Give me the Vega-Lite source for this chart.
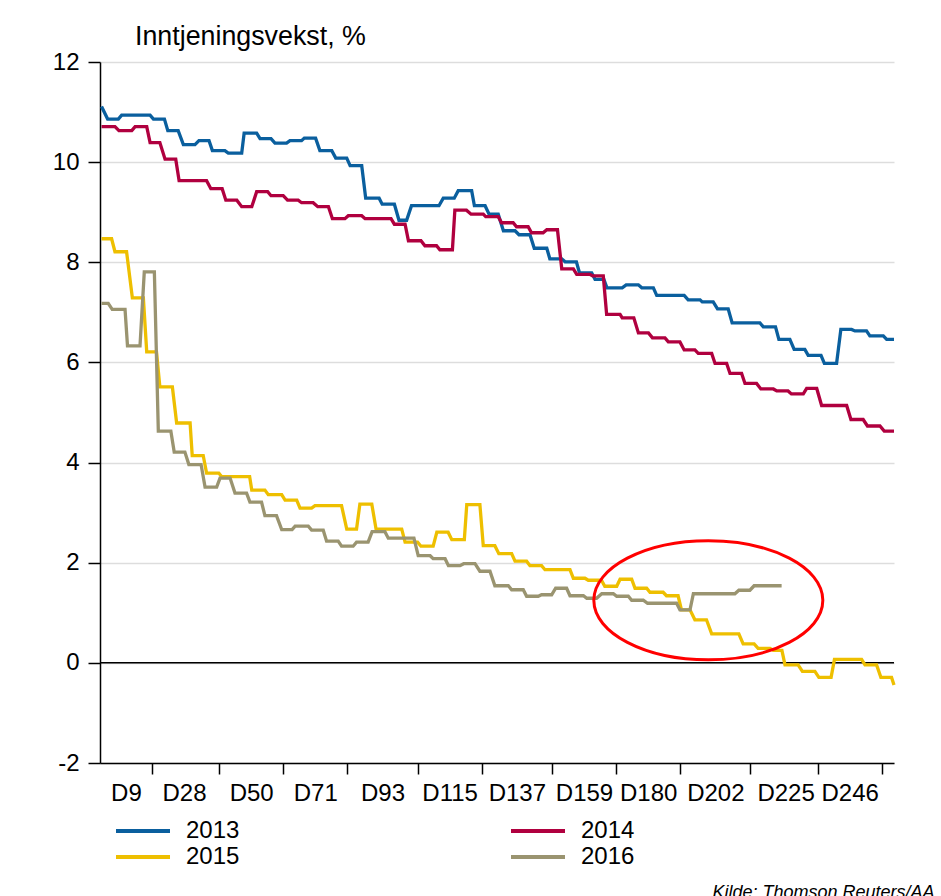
{
  "$schema": "https://vega.github.io/schema/vega-lite/v6.json",
  "width": 794,
  "height": 701,
  "autosize": {"type": "none"},
  "padding": {"left": 100, "top": 62, "right": 47, "bottom": 133},
  "background": "white",
  "config": {
    "font": "Liberation Sans",
    "view": {"stroke": null},
    "axis": {"labelColor": "black", "labelFontSize": 24, "labelFont": "Liberation Sans"}
  },
  "title": {
    "text": "Inntjeningsvekst, %",
    "anchor": "start",
    "frame": "group",
    "dx": 35,
    "dy": 5,
    "offset": 4,
    "fontSize": 26.8,
    "fontWeight": "normal",
    "color": "black",
    "font": "Liberation Sans"
  },
  "datasets": {
    "series": [
      {"year":"2013","day":1,"value":11.11},
      {"year":"2013","day":3,"value":10.86},{"year":"2013","day":6.5,"value":10.86},
      {"year":"2013","day":7.6,"value":10.94},{"year":"2013","day":16.9,"value":10.94},
      {"year":"2013","day":18,"value":10.86},{"year":"2013","day":21.6,"value":10.86},
      {"year":"2013","day":22.7,"value":10.63},{"year":"2013","day":26.1,"value":10.63},
      {"year":"2013","day":27.8,"value":10.35},{"year":"2013","day":31.6,"value":10.35},
      {"year":"2013","day":32.9,"value":10.43},{"year":"2013","day":36.2,"value":10.43},
      {"year":"2013","day":37.3,"value":10.23},{"year":"2013","day":41.4,"value":10.23},
      {"year":"2013","day":42.5,"value":10.18},{"year":"2013","day":46.9,"value":10.18},
      {"year":"2013","day":47.7,"value":10.58},{"year":"2013","day":51.8,"value":10.58},
      {"year":"2013","day":52.9,"value":10.47},{"year":"2013","day":56.5,"value":10.47},
      {"year":"2013","day":57.8,"value":10.38},{"year":"2013","day":61.6,"value":10.38},
      {"year":"2013","day":62.7,"value":10.43},{"year":"2013","day":66.5,"value":10.43},
      {"year":"2013","day":67.4,"value":10.48},{"year":"2013","day":71.1,"value":10.48},
      {"year":"2013","day":72.5,"value":10.23},{"year":"2013","day":76.4,"value":10.23},
      {"year":"2013","day":77.7,"value":10.08},{"year":"2013","day":81.3,"value":10.08},
      {"year":"2013","day":82.4,"value":9.93},{"year":"2013","day":86.2,"value":9.93},
      {"year":"2013","day":87.5,"value":9.28},{"year":"2013","day":91.9,"value":9.28},
      {"year":"2013","day":92.9,"value":9.16},{"year":"2013","day":96.9,"value":9.16},
      {"year":"2013","day":98.4,"value":8.84},{"year":"2013","day":100.9,"value":8.84},
      {"year":"2013","day":102.5,"value":9.13},{"year":"2013","day":111.5,"value":9.13},
      {"year":"2013","day":112.9,"value":9.28},{"year":"2013","day":116.5,"value":9.28},
      {"year":"2013","day":117.8,"value":9.43},{"year":"2013","day":122.2,"value":9.43},
      {"year":"2013","day":123.1,"value":9.13},{"year":"2013","day":126.6,"value":9.13},
      {"year":"2013","day":127.9,"value":8.96},{"year":"2013","day":130.9,"value":8.96},
      {"year":"2013","day":132.6,"value":8.63},{"year":"2013","day":136.4,"value":8.63},
      {"year":"2013","day":137.7,"value":8.55},{"year":"2013","day":141.3,"value":8.55},
      {"year":"2013","day":142.7,"value":8.28},{"year":"2013","day":146.8,"value":8.28},
      {"year":"2013","day":147.8,"value":8.07},{"year":"2013","day":151.7,"value":8.07},
      {"year":"2013","day":152.8,"value":8.01},{"year":"2013","day":156.5,"value":8.01},
      {"year":"2013","day":157.5,"value":7.79},{"year":"2013","day":161.5,"value":7.79},
      {"year":"2013","day":162.6,"value":7.66},{"year":"2013","day":165.5,"value":7.66},
      {"year":"2013","day":166.5,"value":7.49},{"year":"2013","day":171.5,"value":7.49},
      {"year":"2013","day":172.8,"value":7.55},{"year":"2013","day":176.8,"value":7.55},
      {"year":"2013","day":177.9,"value":7.49},{"year":"2013","day":181.7,"value":7.49},
      {"year":"2013","day":182.8,"value":7.34},{"year":"2013","day":191.8,"value":7.34},
      {"year":"2013","day":193.1,"value":7.25},{"year":"2013","day":197,"value":7.25},
      {"year":"2013","day":197.7,"value":7.21},{"year":"2013","day":201.3,"value":7.21},
      {"year":"2013","day":202.7,"value":7.07},{"year":"2013","day":206.2,"value":7.07},
      {"year":"2013","day":207.5,"value":6.79},{"year":"2013","day":216.6,"value":6.79},
      {"year":"2013","day":217.7,"value":6.71},{"year":"2013","day":221.7,"value":6.71},
      {"year":"2013","day":222.8,"value":6.46},{"year":"2013","day":226.4,"value":6.46},
      {"year":"2013","day":227.8,"value":6.26},{"year":"2013","day":231.3,"value":6.26},
      {"year":"2013","day":232.4,"value":6.14},{"year":"2013","day":236.6,"value":6.14},
      {"year":"2013","day":237.7,"value":5.98},{"year":"2013","day":241.7,"value":5.98},
      {"year":"2013","day":243.1,"value":6.66},{"year":"2013","day":246.6,"value":6.66},
      {"year":"2013","day":247.7,"value":6.63},{"year":"2013","day":251.5,"value":6.63},
      {"year":"2013","day":252.6,"value":6.53},{"year":"2013","day":257,"value":6.53},
      {"year":"2013","day":258.1,"value":6.46},{"year":"2013","day":260.5,"value":6.46},

      {"year":"2014","day":1,"value":10.71},{"year":"2014","day":5.4,"value":10.71},
      {"year":"2014","day":6.7,"value":10.63},{"year":"2014","day":10.9,"value":10.63},
      {"year":"2014","day":12,"value":10.71},{"year":"2014","day":15.8,"value":10.71},
      {"year":"2014","day":16.9,"value":10.39},{"year":"2014","day":20.1,"value":10.39},
      {"year":"2014","day":21.8,"value":10.06},{"year":"2014","day":25.3,"value":10.06},
      {"year":"2014","day":26.4,"value":9.63},{"year":"2014","day":35.4,"value":9.63},
      {"year":"2014","day":36.8,"value":9.47},{"year":"2014","day":40.5,"value":9.47},
      {"year":"2014","day":41.7,"value":9.24},{"year":"2014","day":45.3,"value":9.24},
      {"year":"2014","day":46.9,"value":9.11},{"year":"2014","day":50.2,"value":9.11},
      {"year":"2014","day":51.8,"value":9.41},{"year":"2014","day":55.4,"value":9.41},
      {"year":"2014","day":56.5,"value":9.33},{"year":"2014","day":60.5,"value":9.33},
      {"year":"2014","day":61.9,"value":9.24},{"year":"2014","day":65.4,"value":9.24},
      {"year":"2014","day":66.5,"value":9.19},{"year":"2014","day":70.3,"value":9.19},
      {"year":"2014","day":71.8,"value":9.11},{"year":"2014","day":75.3,"value":9.11},
      {"year":"2014","day":76.6,"value":8.87},{"year":"2014","day":80.7,"value":8.87},
      {"year":"2014","day":81.8,"value":8.93},{"year":"2014","day":86.2,"value":8.93},
      {"year":"2014","day":87.3,"value":8.87},{"year":"2014","day":95.8,"value":8.87},
      {"year":"2014","day":96.9,"value":8.76},{"year":"2014","day":100.4,"value":8.76},
      {"year":"2014","day":101.5,"value":8.43},{"year":"2014","day":105.6,"value":8.43},
      {"year":"2014","day":106.9,"value":8.33},{"year":"2014","day":110.7,"value":8.33},
      {"year":"2014","day":111.8,"value":8.25},{"year":"2014","day":115.9,"value":8.25},
      {"year":"2014","day":116.7,"value":9.04},{"year":"2014","day":120.5,"value":9.04},
      {"year":"2014","day":122,"value":8.96},{"year":"2014","day":126,"value":8.96},
      {"year":"2014","day":126.8,"value":8.91},{"year":"2014","day":130.9,"value":8.91},
      {"year":"2014","day":132,"value":8.79},{"year":"2014","day":135.8,"value":8.79},
      {"year":"2014","day":136.9,"value":8.71},{"year":"2014","day":140.7,"value":8.71},
      {"year":"2014","day":141.8,"value":8.59},{"year":"2014","day":145.6,"value":8.59},
      {"year":"2014","day":146.8,"value":8.65},{"year":"2014","day":150.3,"value":8.65},
      {"year":"2014","day":151.7,"value":7.87},{"year":"2014","day":155.5,"value":7.87},
      {"year":"2014","day":156.6,"value":7.76},{"year":"2014","day":160.9,"value":7.76},
      {"year":"2014","day":161.8,"value":7.73},{"year":"2014","day":165.3,"value":7.73},
      {"year":"2014","day":166.4,"value":6.96},{"year":"2014","day":170.8,"value":6.96},
      {"year":"2014","day":171.5,"value":6.89},{"year":"2014","day":175.3,"value":6.89},
      {"year":"2014","day":176.8,"value":6.59},{"year":"2014","day":180.1,"value":6.59},
      {"year":"2014","day":181.4,"value":6.49},{"year":"2014","day":185.5,"value":6.49},
      {"year":"2014","day":186.6,"value":6.41},{"year":"2014","day":190.4,"value":6.41},
      {"year":"2014","day":191.8,"value":6.25},{"year":"2014","day":195.3,"value":6.25},
      {"year":"2014","day":196.4,"value":6.18},{"year":"2014","day":200.8,"value":6.18},
      {"year":"2014","day":201.9,"value":5.98},{"year":"2014","day":205.7,"value":5.98},
      {"year":"2014","day":206.8,"value":5.78},{"year":"2014","day":210.6,"value":5.78},
      {"year":"2014","day":211.7,"value":5.58},{"year":"2014","day":215.5,"value":5.58},
      {"year":"2014","day":216.9,"value":5.47},{"year":"2014","day":221,"value":5.47},
      {"year":"2014","day":222.1,"value":5.43},{"year":"2014","day":225.8,"value":5.43},
      {"year":"2014","day":226.9,"value":5.37},{"year":"2014","day":230.8,"value":5.37},
      {"year":"2014","day":231.9,"value":5.48},{"year":"2014","day":235.2,"value":5.48},
      {"year":"2014","day":236.8,"value":5.14},{"year":"2014","day":245,"value":5.14},
      {"year":"2014","day":246.4,"value":4.86},{"year":"2014","day":250.4,"value":4.86},
      {"year":"2014","day":251.8,"value":4.73},{"year":"2014","day":255.9,"value":4.73},
      {"year":"2014","day":257.3,"value":4.63},{"year":"2014","day":260.5,"value":4.63},

      {"year":"2015","day":1,"value":8.47},{"year":"2015","day":4.3,"value":8.47},
      {"year":"2015","day":5.4,"value":8.21},{"year":"2015","day":9.2,"value":8.21},
      {"year":"2015","day":11.1,"value":7.29},{"year":"2015","day":14.7,"value":7.29},
      {"year":"2015","day":15.8,"value":6.21},{"year":"2015","day":19,"value":6.21},
      {"year":"2015","day":20.1,"value":5.51},{"year":"2015","day":24.2,"value":5.51},
      {"year":"2015","day":25.6,"value":4.79},{"year":"2015","day":30,"value":4.79},
      {"year":"2015","day":30.7,"value":4.14},{"year":"2015","day":34.3,"value":4.14},
      {"year":"2015","day":35.4,"value":3.79},{"year":"2015","day":39.4,"value":3.79},
      {"year":"2015","day":40.3,"value":3.72},{"year":"2015","day":49.5,"value":3.72},
      {"year":"2015","day":50.2,"value":3.45},{"year":"2015","day":54.5,"value":3.45},
      {"year":"2015","day":55.6,"value":3.36},{"year":"2015","day":60,"value":3.36},
      {"year":"2015","day":61.1,"value":3.25},{"year":"2015","day":64.9,"value":3.25},
      {"year":"2015","day":66,"value":3.09},{"year":"2015","day":69.8,"value":3.09},
      {"year":"2015","day":70.9,"value":3.14},{"year":"2015","day":79.6,"value":3.14},
      {"year":"2015","day":81.3,"value":2.67},{"year":"2015","day":84.5,"value":2.67},
      {"year":"2015","day":85.6,"value":3.17},{"year":"2015","day":89.5,"value":3.17},
      {"year":"2015","day":90.9,"value":2.67},{"year":"2015","day":99.3,"value":2.67},
      {"year":"2015","day":100.4,"value":2.41},{"year":"2015","day":104.5,"value":2.41},
      {"year":"2015","day":105.6,"value":2.33},{"year":"2015","day":109.6,"value":2.33},
      {"year":"2015","day":110.8,"value":2.61},{"year":"2015","day":114.5,"value":2.61},
      {"year":"2015","day":115.7,"value":2.46},{"year":"2015","day":119.8,"value":2.46},
      {"year":"2015","day":120.6,"value":3.16},{"year":"2015","day":124.9,"value":3.16},
      {"year":"2015","day":126,"value":2.34},{"year":"2015","day":129.8,"value":2.34},
      {"year":"2015","day":131.1,"value":2.18},{"year":"2015","day":135.3,"value":2.18},
      {"year":"2015","day":136.4,"value":2.03},{"year":"2015","day":140.2,"value":2.03},
      {"year":"2015","day":141.3,"value":1.94},{"year":"2015","day":145.1,"value":1.94},
      {"year":"2015","day":146.2,"value":1.86},{"year":"2015","day":154.4,"value":1.86},
      {"year":"2015","day":155.5,"value":1.69},{"year":"2015","day":159.3,"value":1.69},
      {"year":"2015","day":160.4,"value":1.65},{"year":"2015","day":164.7,"value":1.65},
      {"year":"2015","day":165.8,"value":1.53},{"year":"2015","day":169.7,"value":1.53},
      {"year":"2015","day":170.8,"value":1.67},{"year":"2015","day":174.6,"value":1.67},
      {"year":"2015","day":175.7,"value":1.49},{"year":"2015","day":179.5,"value":1.49},
      {"year":"2015","day":180.6,"value":1.41},{"year":"2015","day":184.9,"value":1.41},
      {"year":"2015","day":186,"value":1.34},{"year":"2015","day":189.8,"value":1.34},
      {"year":"2015","day":190.9,"value":1.06},{"year":"2015","day":193.7,"value":1.06},
      {"year":"2015","day":195.3,"value":0.86},{"year":"2015","day":199.1,"value":0.86},
      {"year":"2015","day":200.8,"value":0.58},{"year":"2015","day":209.7,"value":0.58},
      {"year":"2015","day":211.1,"value":0.38},{"year":"2015","day":214.7,"value":0.38},
      {"year":"2015","day":216,"value":0.29},{"year":"2015","day":219.9,"value":0.29},
      {"year":"2015","day":221,"value":0.25},{"year":"2015","day":223.8,"value":0.25},
      {"year":"2015","day":224.8,"value":-0.04},{"year":"2015","day":229.1,"value":-0.04},
      {"year":"2015","day":230.5,"value":-0.17},{"year":"2015","day":234.6,"value":-0.17},
      {"year":"2015","day":235.9,"value":-0.29},{"year":"2015","day":239.9,"value":-0.29},
      {"year":"2015","day":241,"value":0.07},{"year":"2015","day":249.9,"value":0.07},
      {"year":"2015","day":251,"value":-0.04},{"year":"2015","day":254.8,"value":-0.04},
      {"year":"2015","day":256.2,"value":-0.29},{"year":"2015","day":259.7,"value":-0.29},
      {"year":"2015","day":260.5,"value":-0.44},

      {"year":"2016","day":1,"value":7.18},{"year":"2016","day":3.2,"value":7.18},
      {"year":"2016","day":4.5,"value":7.06},{"year":"2016","day":8.7,"value":7.06},
      {"year":"2016","day":9.5,"value":6.33},{"year":"2016","day":13.6,"value":6.33},
      {"year":"2016","day":15,"value":7.81},{"year":"2016","day":18.3,"value":7.81},
      {"year":"2016","day":19.6,"value":4.63},{"year":"2016","day":23.7,"value":4.63},
      {"year":"2016","day":24.8,"value":4.21},{"year":"2016","day":28.3,"value":4.21},
      {"year":"2016","day":29.6,"value":3.96},{"year":"2016","day":33.6,"value":3.96},
      {"year":"2016","day":34.9,"value":3.51},{"year":"2016","day":38.7,"value":3.51},
      {"year":"2016","day":39.8,"value":3.69},{"year":"2016","day":43.1,"value":3.69},
      {"year":"2016","day":44.7,"value":3.39},{"year":"2016","day":48.5,"value":3.39},
      {"year":"2016","day":49.6,"value":3.21},{"year":"2016","day":53.4,"value":3.21},
      {"year":"2016","day":54.5,"value":2.94},{"year":"2016","day":58.3,"value":2.94},
      {"year":"2016","day":60,"value":2.66},{"year":"2016","day":63.4,"value":2.66},
      {"year":"2016","day":64.4,"value":2.73},{"year":"2016","day":68.7,"value":2.73},
      {"year":"2016","day":69.8,"value":2.65},{"year":"2016","day":73.6,"value":2.65},
      {"year":"2016","day":74.7,"value":2.43},{"year":"2016","day":78.5,"value":2.43},
      {"year":"2016","day":79.6,"value":2.33},{"year":"2016","day":83.4,"value":2.33},
      {"year":"2016","day":84.5,"value":2.41},{"year":"2016","day":88.3,"value":2.41},
      {"year":"2016","day":89.6,"value":2.62},{"year":"2016","day":93.8,"value":2.62},
      {"year":"2016","day":94.9,"value":2.49},{"year":"2016","day":103.3,"value":2.49},
      {"year":"2016","day":104.7,"value":2.14},{"year":"2016","day":108.6,"value":2.14},
      {"year":"2016","day":109.6,"value":2.08},{"year":"2016","day":113.5,"value":2.08},
      {"year":"2016","day":114.6,"value":1.94},{"year":"2016","day":118.4,"value":1.94},
      {"year":"2016","day":119.6,"value":1.98},{"year":"2016","day":123.3,"value":1.98},
      {"year":"2016","day":124.9,"value":1.83},{"year":"2016","day":128.2,"value":1.83},
      {"year":"2016","day":129.8,"value":1.54},{"year":"2016","day":134.2,"value":1.54},
      {"year":"2016","day":135.3,"value":1.46},{"year":"2016","day":139.1,"value":1.46},
      {"year":"2016","day":140.2,"value":1.33},{"year":"2016","day":144,"value":1.33},
      {"year":"2016","day":145.1,"value":1.36},{"year":"2016","day":148.4,"value":1.36},
      {"year":"2016","day":149.7,"value":1.49},{"year":"2016","day":153.3,"value":1.49},
      {"year":"2016","day":154.4,"value":1.34},{"year":"2016","day":158.8,"value":1.34},
      {"year":"2016","day":159.9,"value":1.29},{"year":"2016","day":163.1,"value":1.29},
      {"year":"2016","day":164.8,"value":1.38},{"year":"2016","day":168.6,"value":1.38},
      {"year":"2016","day":169.7,"value":1.33},{"year":"2016","day":173.5,"value":1.33},
      {"year":"2016","day":174.6,"value":1.25},{"year":"2016","day":178.4,"value":1.25},
      {"year":"2016","day":179.8,"value":1.19},{"year":"2016","day":189.3,"value":1.19},
      {"year":"2016","day":190.4,"value":1.06},{"year":"2016","day":193.7,"value":1.06},
      {"year":"2016","day":194.8,"value":1.38},{"year":"2016","day":208.4,"value":1.38},
      {"year":"2016","day":209.7,"value":1.45},{"year":"2016","day":213.3,"value":1.45},
      {"year":"2016","day":214.7,"value":1.54},{"year":"2016","day":223.7,"value":1.54}
    ],
    "zero": [{"value": 0}],
    "annot": [{"day": 199.7, "value": 1.25}]
  },
  "encoding": {
    "y": {
      "field": "value",
      "type": "quantitative",
      "scale": {"domain": [-2, 12], "nice": false, "zero": false},
      "axis": {
        "title": null,
        "values": [-2, 0, 2, 4, 6, 8, 10, 12],
        "labelExpr": "'' + datum.value",
        "grid": true,
        "gridColor": "#dddddd",
        "gridWidth": 1.5,
        "domainColor": "black",
        "domainWidth": 1.5,
        "tickColor": "black",
        "tickWidth": 1.5,
        "tickSize": 12,
        "labelPadding": 9,
        "labelFontSize": 24
      }
    }
  },
  "layer": [
    {
      "data": {"name": "zero"},
      "mark": {"type": "rule", "color": "black", "strokeWidth": 1.5},
      "encoding": {}
    },
    {
      "data": {"name": "series"},
      "mark": {"type": "line", "strokeWidth": 3.3, "interpolate": "linear"},
      "encoding": {
        "x": {
          "field": "day",
          "type": "quantitative",
          "scale": {"domain": [0.5, 260.5], "nice": false, "zero": false},
          "axis": {
            "orient": "bottom",
            "title": null,
            "values": [17.5, 39.5, 60.5, 81.5, 104.5, 125.5, 148.5, 169.5, 190.5, 213.5, 235.5, 256.5],
            "labels": false,
            "grid": false,
            "domainColor": "black",
            "domainWidth": 1.5,
            "tickColor": "black",
            "tickWidth": 1.5,
            "tickSize": 11
          }
        },
        "color": {
          "field": "year",
          "type": "nominal",
          "scale": {"domain": ["2013", "2014", "2015", "2016"], "range": ["#0a5f9e", "#b0003f", "#eebf00", "#9a9470"]},
          "legend": {
            "orient": "none",
            "direction": "horizontal",
            "legendX": 14,
            "legendY": 757,
            "title": null,
            "columns": 2,
            "columnPadding": 269,
            "rowPadding": 2,
            "clipHeight": 24,
            "padding": 0,
            "symbolType": "stroke",
            "symbolSize": 2916,
            "symbolStrokeWidth": 4,
            "labelFontSize": 24,
            "labelColor": "black",
            "labelOffset": 14,
            "labelFont": "Liberation Sans"
          }
        }
      }
    },
    {
      "data": {"name": "annot"},
      "mark": {
        "type": "point",
        "shape": "M-1,0A1,0.52,0,1,1,1,0A1,0.52,0,1,1,-1,0Z",
        "size": 52441,
        "filled": false,
        "fill": null,
        "stroke": "#ff0000",
        "strokeWidth": 3,
        "opacity": 1
      },
      "encoding": {
        "x": {
          "field": "day",
          "type": "quantitative",
          "scale": {"domain": [0.5, 260.5], "nice": false, "zero": false},
          "axis": {
            "orient": "bottom",
            "values": [9, 28, 50, 71, 93, 115, 137, 159, 180, 202, 225, 246],
            "labelExpr": "'D' + datum.value",
            "ticks": false,
            "domain": false,
            "grid": false,
            "labelPadding": 18,
            "labelFontSize": 24,
            "labelFlush": false,
            "labelOverlap": false,
            "labelBound": false,
            "title": "Kilde: Thomson Reuters/AA",
            "titleFontStyle": "italic",
            "titleFontWeight": "normal",
            "titleFontSize": 18,
            "titleColor": "black",
            "titleAlign": "right",
            "titleAnchor": "end",
            "titleBaseline": "alphabetic",
            "titleX": 834,
            "titleY": 134
          }
        }
      }
    }
  ],
  "resolve": {"axis": {"x": "independent"}}
}
